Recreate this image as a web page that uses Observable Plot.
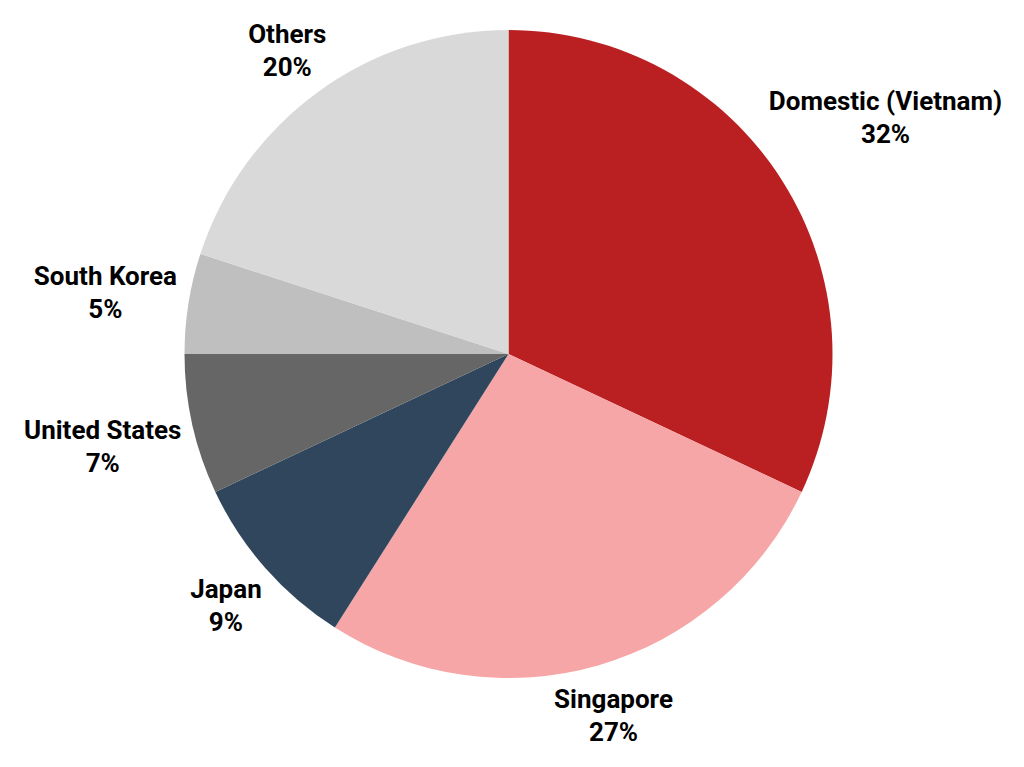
<!DOCTYPE html>
<html><head><meta charset="utf-8">
<script src="https://cdn.jsdelivr.net/npm/d3@7"></script>
<script src="https://cdn.jsdelivr.net/npm/@observablehq/plot@0.6"></script>
<style>body{margin:0;background:#fff}#chart{width:1024px;height:767px}</style>
</head><body><div id="chart"></div>
<script>
// Data
const categories = ["Domestic (Vietnam)", "Singapore", "Japan", "United States", "South Korea", "Others"];
const shares = [32, 27, 9, 7, 5, 20];
const colors = ["#BA1F21", "#F6A6A6", "#2F465C", "#666666", "#BFBFBF", "#D9D9D9"];

// Layout
const W = 1024, H = 767;
const CX = 508.5, CY = 354, R = 324;
const FONT_SIZE = 26, LINE_H = 33, GAP = 10;

const data = categories.map((c, i) => ({category: c, value: shares[i], label: `${c}\n${shares[i]}%`}));
const arcs = d3.pie().value(d => d.value).sort(null)(data);

// measure text widths for label placement outside the pie
const ctx = document.createElement("canvas").getContext("2d");
ctx.font = `bold ${FONT_SIZE}px Roboto`;
const labels = arcs.map(a => {
  const mid = (a.startAngle + a.endAngle) / 2;
  const s = Math.sin(mid), c = Math.cos(mid);
  const w = Math.max(...a.data.label.split("\n").map(t => ctx.measureText(t).width));
  const h = LINE_H * 2 - 16;
  const d = R + GAP + Math.abs(s) * w / 2 + Math.abs(c) * h / 2;
  return {label: a.data.label, category: a.data.category, x: s * d / R, y: c * d / R};
});

function slices(index, scales) {
  const cx = scales.x(0), cy = scales.y(0);
  const r = scales.x(1) - scales.x(0);
  const color = scales.color || d3.scaleOrdinal(categories, colors);
  const g = d3.create("svg:g");
  const arc = d3.arc().innerRadius(0).outerRadius(r);
  g.selectAll("path").data(arcs).join("path")
    .attr("transform", `translate(${cx},${cy})`)
    .attr("d", arc)
    .attr("fill", d => color(d.data.category));
  return g.node();
}

const chart = Plot.plot({
  width: W, height: H,
  margin: 0,
  x: {domain: [-1, 1], range: [CX - R, CX + R], axis: null},
  y: {domain: [-1, 1], range: [CY + R, CY - R], axis: null},
  color: {domain: categories, range: colors},
  style: {background: "#fff"},
  marks: [
    Plot.dot(labels, {x: "x", y: "y", fill: "category", r: 0}),
    slices,
    Plot.text(labels, {
      x: "x", y: "y", text: "label",
      fontFamily: "Roboto", fontWeight: "bold", fontSize: FONT_SIZE,
      lineHeight: LINE_H / FONT_SIZE, fill: "#000", textAnchor: "middle", lineAnchor: "middle"
    })
  ]
});
document.getElementById("chart").append(chart);
</script>
</body></html>
